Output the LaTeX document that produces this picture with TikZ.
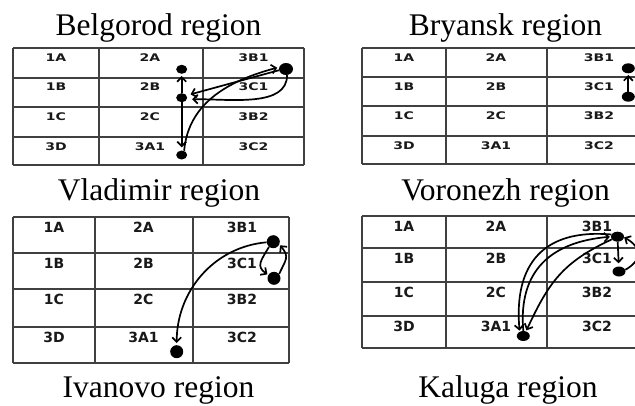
\documentclass[tikz,border=0pt]{standalone}
\usepackage{graphicx}
\usepackage{fontspec}
\setmainfont{Liberation Serif}
\newfontfamily\cellfont{DejaVu Sans}
\usetikzlibrary{arrows.meta,shapes.geometric}
\newcommand\sq[1]{\scalebox{1}[0.75]{#1}}
\begin{document}
\begin{tikzpicture}[x=1pt,y=-1pt,
  gridline/.style={line width=1.3pt, draw=black!75},
  capt/.style={anchor=base, font=\fontsize{31.5}{36}\selectfont, inner sep=0pt},
  lbl/.style={font=\cellfont\bfseries\fontsize{14}{15}\selectfont, inner sep=0pt, text=black!90},
  blobA/.style={ellipse, fill=black, inner sep=0pt, minimum width=11pt, minimum height=9pt},
  blobB/.style={ellipse, fill=black, inner sep=0pt, minimum width=13pt, minimum height=13pt},
  blobC/.style={ellipse, fill=black, inner sep=0pt, minimum width=13pt, minimum height=10pt},
  arr/.style={line width=1.7pt, -{Straight Barb[length=4.5pt,width=9pt]}}]
\useasboundingbox (0,0) rectangle (635,405);
\clip (0,0) rectangle (635,405);
\fill[white] (0,0) rectangle (635,405);

% captions
\node[capt] (c1) at (158.5,35) {Belgorod region};
\node[capt] (c2) at (505.5,35) {Bryansk region};
\node[capt] (c3) at (159,200) {Vladimir region};
\node[capt] (c4) at (505.5,200) {Voronezh region};
\node[capt] (c5) at (158.5,397) {Ivanovo region};
\node[capt] (c6) at (508,397) {Kaluga region};

% grid 1
\foreach \x in {13,99,203,304} \draw[gridline] (\x,48) -- (\x,165);
\foreach \y in {48,78,107,137,165} \draw[gridline] (13,\y) -- (304,\y);
\foreach \r/\y/\a/\b/\c in {1/57.5/1A/2A/3B1, 2/87/1B/2B/3C1, 3/116.5/1C/2C/3B2, 4/146.5/3D/3A1/3C2} {
  \node[lbl] (g1a\r) at (56,\y) {\sq{\a}};
  \node[lbl] (g1b\r) at (150,\y) {\sq{\b}};
  \node[lbl] (g1c\r) at (253.5,\y) {\sq{\c}};
}
% grid 2
\foreach \x in {362,446,547,649} \draw[gridline] (\x,48) -- (\x,164);
\foreach \y in {48,77,106,136,164} \draw[gridline] (362,\y) -- (649,\y);
\foreach \r/\y/\a/\b/\c in {1/57.5/1A/2A/3B1, 2/86.5/1B/2B/3C1, 3/115.5/1C/2C/3B2, 4/145.5/3D/3A1/3C2} {
  \node[lbl] (g2a\r) at (404,\y) {\sq{\a}};
  \node[lbl] (g2b\r) at (496,\y) {\sq{\b}};
  \node[lbl] (g2c\r) at (599,\y) {\sq{\c}};
}
% grid 3
\foreach \x in {13,95,193,289} \draw[gridline] (\x,217) -- (\x,363);
\foreach \y in {217,253,289,327,363} \draw[gridline] (13,\y) -- (289,\y);
\foreach \r/\y/\a/\b/\c in {1/227/1A/2A/3B1, 2/263/1B/2B/3C1, 3/299.5/1C/2C/3B2, 4/337.5/3D/3A1/3C2} {
  \node[lbl] (g3a\r) at (54,\y) {\a};
  \node[lbl] (g3b\r) at (143.5,\y) {\b};
  \node[lbl] (g3c\r) at (242,\y) {\c};
}
% grid 4
\foreach \x in {362,446,547,649} \draw[gridline] (\x,216) -- (\x,348);
\foreach \y in {216,248,282,316,348} \draw[gridline] (362,\y) -- (649,\y);
\foreach \r/\y/\a/\b/\c in {1/226/1A/2A/3B1, 2/258/1B/2B/3C1, 3/292/1C/2C/3B2, 4/326/3D/3A1/3C2} {
  \node[lbl] (g4a\r) at (404,\y) {\a};
  \node[lbl] (g4b\r) at (496,\y) {\b};
  \node[lbl] (g4c\r) at (597,\y) {\c};
}

% grid 1 dots and arrows
\node[blobA] (pA) at (181.7,69.3) {};
\node[blobA] (pB) at (181.7,97.7) {};
\node[blobA] (pC) at (181.7,155) {};
\node[blobA, minimum width=14pt, minimum height=12pt] (pD) at (286,69) {};
\draw[arr, shorten >=2pt] (pB) -- (pA);
\draw[arr, shorten >=3pt] (pB) -- (pC);
\draw[arr, shorten >=4pt] (pD.190) -- (pB.25);
\draw[arr, shorten >=5pt] (pD.-80) .. controls +(0,32) and +(45,0) .. (pB.-15);
\draw[arr, shorten >=2pt] (pC.60) to[out=85, in=195] (pD.165);

% grid 2
\node[blobA, minimum width=13pt, minimum height=10pt] (qT) at (628.3,68.3) {};
\node[blobA, minimum width=13pt, minimum height=10pt] (qB) at (628.3,96.7) {};
\draw[arr, shorten >=1.5pt] (qB) -- (qT);

% grid 3
\node[blobB] (rT) at (273.3,241.7) {};
\node[blobB] (rL) at (274,278.3) {};
\node[blobB] (rB) at (176.7,351.7) {};
\draw[arr, shorten >=2pt] (rT.185) to[out=185, in=90] (rB.north);
\draw[arr, shorten >=1pt] (rT.230) to[out=240, in=145, looseness=1.4] (rL.150);
\draw[arr, shorten >=1pt] (rL.40) to[out=65, in=-50, looseness=1.4] (rT.-25);

% grid 4
\node[blobC] (sT) at (617.5,236.7) {};
\node[blobC] (sL) at (619,271.5) {};
\node[blobC] (sB) at (523.3,336) {};
\draw[arr, shorten >=3pt] (sT) -- (sL);
\draw[arr] (sL.15) to[out=30, in=-30, looseness=1.6] (sT.-5);
\draw[arr, shorten >=1pt] (sT.160) to[out=175, in=95, looseness=1.3] (sB.130);
\draw[arr, shorten >=1pt] (sB.north) to[out=95, in=185, looseness=1.2] (sT.west);
\draw[arr, shorten >=1pt] (sT.205) to[out=205, in=65, looseness=1.1] (sB.60);
\end{tikzpicture}
\end{document}
